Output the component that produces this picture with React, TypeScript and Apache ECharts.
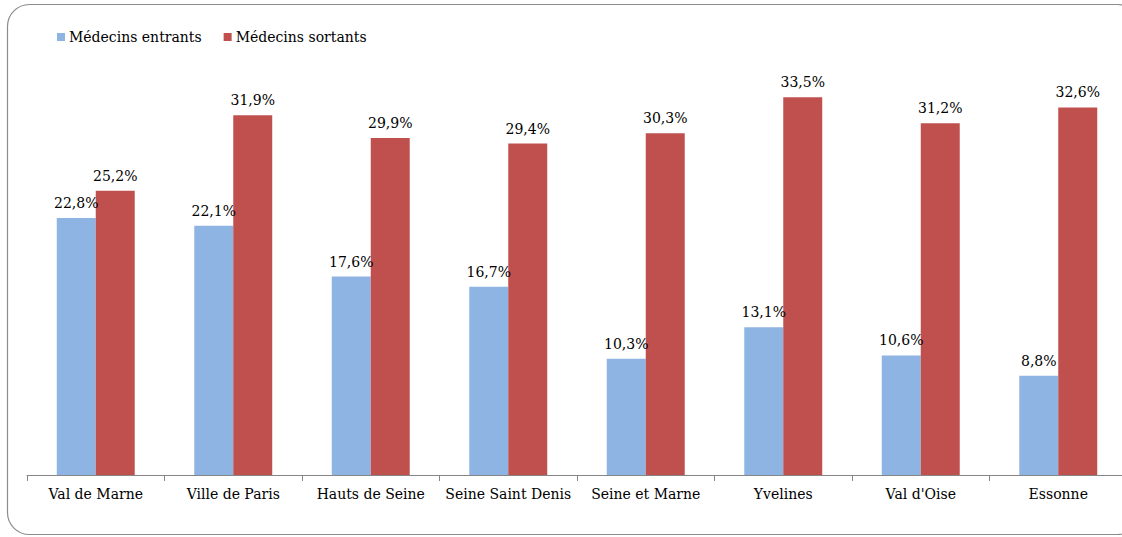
import React, { useEffect, useRef } from "react";
import * as echarts from "echarts";

const categories = ["Val de Marne", "Ville de Paris", "Hauts de Seine", "Seine Saint Denis", "Seine et Marne", "Yvelines", "Val d'Oise", "Essonne"];
const entrants = [22.8, 22.1, 17.6, 16.7, 10.3, 13.1, 10.6, 8.8];
const sortants = [25.2, 31.9, 29.9, 29.4, 30.3, 33.5, 31.2, 32.6];
const seriesNames = ["Médecins entrants", "Médecins sortants"];

const FONT = "DejaVu Serif";
const FS = 14;

export default function App() {
  const ref = useRef<HTMLDivElement>(null);
  useEffect(() => {
    document.body.style.margin = "0";
    const chart = echarts.init(ref.current!, null, { renderer: "svg" });
    const fmt = (p: any) => p.value.toFixed(1).replace(".", ",") + "%";
    chart.setOption({
      animation: false,
      graphic: [
        {
          type: "rect",
          shape: { x: 7.5, y: 4.5, width: 1132, height: 530, r: 22 },
          style: { fill: "none", stroke: "#8c8c8c", lineWidth: 1.2 },
          silent: true,
        },
      ],
      legend: {
        left: 52,
        top: 25,
        itemWidth: 8,
        itemHeight: 8,
        itemGap: 22,
        icon: "rect",
        textStyle: { fontFamily: FONT, fontSize: FS, color: "#000", padding: [0, 0, 0, -1] },
        data: seriesNames,
      },
      grid: { left: 27, right: 5, top: 24, bottom: 62, containLabel: false },
      xAxis: {
        type: "category",
        data: categories,
        axisLine: { lineStyle: { color: "#868686" } },
        axisTick: { show: true, length: 6, lineStyle: { color: "#868686" } },
        axisLabel: { fontFamily: FONT, fontSize: FS, color: "#000", margin: 12, interval: 0 },
      },
      yAxis: {
        type: "value",
        min: 0,
        max: 40,
        show: false,
        splitLine: { show: false },
      },
      series: [
        {
          name: seriesNames[0],
          type: "bar",
          data: entrants,
          barGap: "0%",
          barCategoryGap: "43.3%",
          itemStyle: { color: "#8EB4E3" },
          label: { show: true, position: "top", formatter: fmt, fontFamily: FONT, fontSize: FS, color: "#000", distance: 8 },
        },
        {
          name: seriesNames[1],
          type: "bar",
          data: sortants,
          barGap: "0%",
          barCategoryGap: "43.3%",
          itemStyle: { color: "#C0504D" },
          label: { show: true, position: "top", formatter: fmt, fontFamily: FONT, fontSize: FS, color: "#000", distance: 8 },
        },
      ],
    });
    return () => chart.dispose();
  }, []);
  return (
    <div style={{ width: 1122, height: 537, overflow: "hidden" }}>
      <div ref={ref} style={{ width: 1132, height: 537 }} />
    </div>
  );
}
